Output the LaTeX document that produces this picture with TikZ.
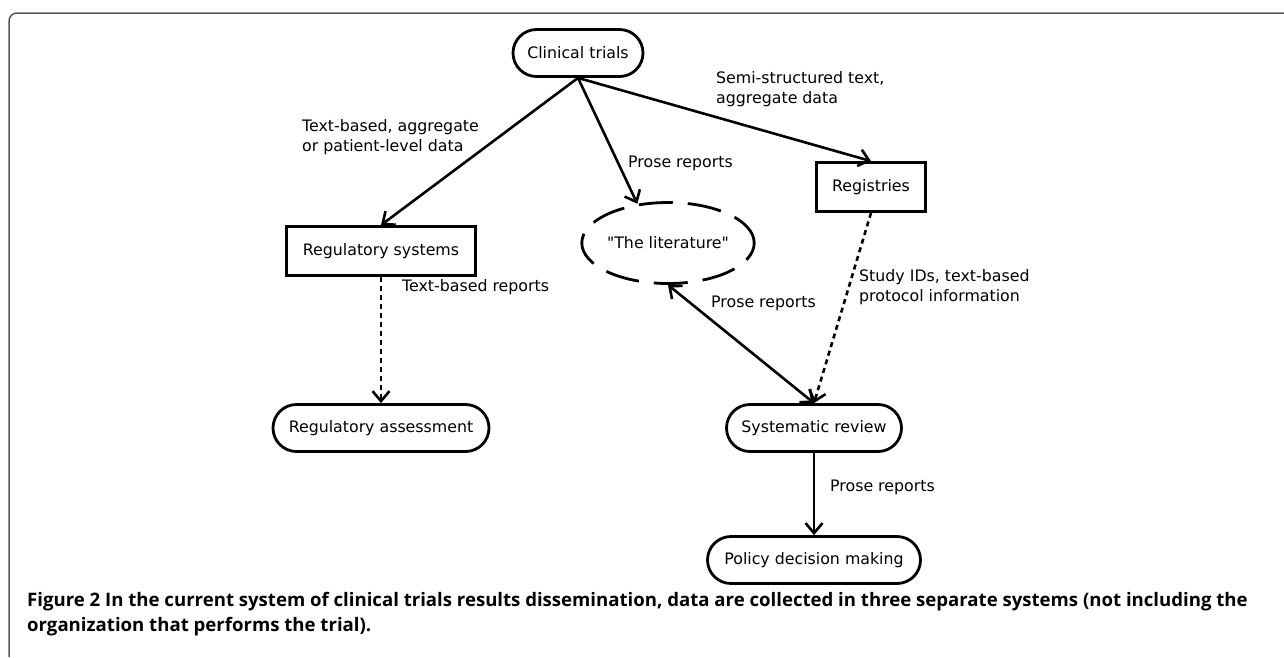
\documentclass[tikz,border=0pt]{standalone}
\usepackage{fontspec}
\setmainfont{DejaVu Sans}[Ligatures=TeXOff]
\newfontfamily\capfont{Open Sans}
\usetikzlibrary{shapes.geometric,shapes.misc,arrows.meta}

\begin{document}
\begin{tikzpicture}[
  x=1pt, y=-1pt,
  font=\fontsize{15.8}{20}\selectfont,
  >={Straight Barb[length=10pt,width=17pt]},
  term/.style={
    rounded rectangle,
    draw,
    line width=2.8pt,
    minimum height=47pt,
    inner sep=0pt
  },
  sysbox/.style={draw, line width=2.8pt, minimum height=49pt, inner sep=0pt},
  cloudy/.style={
    ellipse,
    draw,
    line width=2.8pt,
    dash pattern=on 34pt off 15pt,
    minimum width=166pt,
    minimum height=81pt,
    inner sep=0pt
  },
  flow/.style={->, line width=2.6pt},
  dotflow/.style={flow, dash pattern=on 5pt off 4pt},
  lbl/.style={anchor=west, align=left, inner sep=0pt}
]
  \useasboundingbox (0,0) rectangle (1284,657);
  \draw[gray!70!black,line width=1.5pt,rounded corners=8pt] (9,657) -- (9,13) -- (1284,13);
  \node[term,minimum width=130pt] (trials) at (578,53) {Clinical trials};
  \node[sysbox,minimum width=109pt] (registries) at (871,187) {Registries};
  \node[sysbox,minimum width=189pt] (regsys) at (381,251) {Regulatory systems};
  \node[cloudy] (lit) at (668,243) {"The literature"};
  \node[term,minimum width=216pt] (regassess) at (381,428) {Regulatory assessment};
  \node[term,minimum width=175pt] (sysrev) at (814,428) {Systematic review};
  \node[term,minimum width=213pt] (policy) at (814,560) {Policy decision making};
  \draw[flow] (trials.south) -- (regsys.north);
  \draw[flow] (trials.south) -- (lit.128);
  \draw[flow] (trials.south) -- (registries.north);
  \draw[dotflow] (regsys.south) -- (regassess.north);
  \draw[dotflow] (registries.south) -- (sysrev.north);
  \draw[flow,<->] (lit.south) -- (sysrev.north);
  \draw[flow] (sysrev.south) -- (policy.north);
  \node[lbl] (semi) at (716,89) {Semi-structured text,\\aggregate data};
  \node[lbl] (textagg) at (302,137) {Text-based, aggregate\\or patient-level data};
  \node[lbl] (prose1) at (628,163) {Prose reports};
  \node[lbl] (textrep) at (402,287) {Text-based reports};
  \node[lbl] (prose2) at (711,303) {Prose reports};
  \node[lbl] (studyids) at (859,287) {Study IDs, text-based\\protocol information};
  \node[lbl] (prose3) at (830,487) {Prose reports};
  \node[anchor=north west,align=left,inner sep=0pt,font=\capfont\bfseries\fontsize{18.6}{25}\selectfont] (caption) at (27,592)
    {Figure 2 In the current system of clinical trials results dissemination, data are collected in three separate systems (not including the\\organization that performs the trial).};
\end{tikzpicture}
\end{document}
